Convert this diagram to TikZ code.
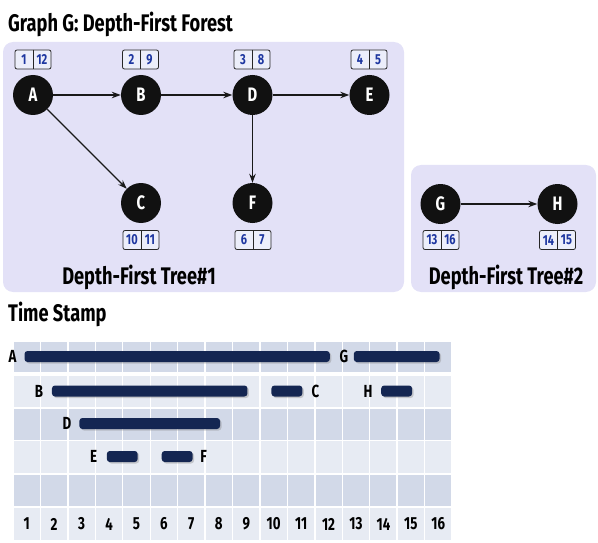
\documentclass[tikz,border=0pt]{standalone}
\usepackage{fontspec}
\usetikzlibrary{arrows.meta,shadows}
\newfontfamily\din[FakeStretch=0.76]{Fira Sans}
\definecolor{panel}{RGB}{227,225,247}
\definecolor{rowdark}{RGB}{210,217,232}
\definecolor{rowlight}{RGB}{231,235,243}
\definecolor{barcol}{RGB}{20,38,82}
\definecolor{numblue}{RGB}{30,55,160}
\definecolor{boxfill}{RGB}{236,238,250}
\definecolor{vtxfill}{RGB}{17,17,17}
\tikzset{
  panelbox/.style={fill=panel, rounded corners=10pt},
  vtx/.style={circle, fill=vtxfill, minimum size=40pt, inner sep=0pt, text=white, font=\din\bfseries\fontsize{19.5}{19.5}\selectfont},
  edge/.style={-{Stealth[length=9pt,width=6.5pt]}, line width=1.1pt, draw=black!90},
  stampbox/.style={rectangle, rounded corners=2pt, draw=black!85, line width=0.8pt, fill=boxfill, minimum width=36pt, minimum height=19pt, inner sep=0pt},
  stampline/.style={draw=black!85, line width=0.8pt},
  stampnum/.style={inner sep=0pt, text=numblue, font=\din\bfseries\fontsize{14.5}{14.5}\selectfont},
  titletext/.style={inner sep=0pt, font=\din\bfseries\fontsize{24}{24}\selectfont},
  treetext/.style={inner sep=0pt, font=\din\bfseries\fontsize{24}{24}\selectfont},
  barlbl/.style={inner sep=0pt, font=\din\bfseries\fontsize{17.5}{17.5}\selectfont},
  numlbl/.style={inner sep=0pt, font=\din\bfseries\fontsize{17.5}{17.5}\selectfont},
  barstyle/.style={fill=barcol, rounded corners=3pt, drop shadow={opacity=0.35, shadow xshift=1.5pt, shadow yshift=-1.5pt}}
}
\newcommand\stamp[4]{%
  \node[stampbox] (#1) at (#2) {};
  \draw[stampline] (#1.north) -- (#1.south);
  \node[stampnum] at ([xshift=-9pt]#1.center) {#3};
  \node[stampnum] at ([xshift=9pt]#1.center) {#4};
}
\newcommand\tsbar[3]{%
  \path[barstyle] ({13+(#1-1)*27.44+11.5},{#3-5.5}) rectangle ({13+#2*27.44-12.5},{#3+5.5});
}
\begin{document}
\begin{tikzpicture}[x=1pt,y=-1pt]
\useasboundingbox (0,0) rectangle (598,543);
% titles
\node[titletext, anchor=base west] (title) at (8,31.5) {Graph G: Depth-First Forest};
\node[titletext, anchor=base west] (tstitle) at (8,321) {Time Stamp};
% panels
\fill[panelbox] (3,42) rectangle (404,292);
\fill[panelbox] (411,165) rectangle (596,292);
\node[treetext, anchor=base] (t1) at (139,284) {Depth-First Tree\#1};
\node[treetext, anchor=base] (t2) at (506,284) {Depth-First Tree\#2};
% vertices
\node[vtx] (A) at (33,95) {A};
\node[vtx] (B) at (141,95) {B};
\node[vtx] (D) at (252.5,95) {D};
\node[vtx] (E) at (369.5,95) {E};
\node[vtx] (C) at (141,203) {C};
\node[vtx] (F) at (252.5,203) {F};
\node[vtx] (G) at (440.5,204) {G};
\node[vtx] (H) at (557.5,204) {H};
% edges
\draw[edge] (A) -- (B);
\draw[edge] (B) -- (D);
\draw[edge] (D) -- (E);
\draw[edge] (A) -- (C);
\draw[edge] (D) -- (F);
\draw[edge] (G) -- (H);
% stamps
\stamp{sA}{33,59.5}{1}{12}
\stamp{sB}{140.5,59.5}{2}{9}
\stamp{sD}{252,59.5}{3}{8}
\stamp{sE}{369,59.5}{4}{5}
\stamp{sC}{141,240}{10}{11}
\stamp{sF}{253,240}{6}{7}
\stamp{sG}{441,240}{13}{16}
\stamp{sH}{557.5,240}{14}{15}
% grid
\foreach \ya/\yb/\cl in {342/372/rowdark, 376/407/rowlight, 408.5/439.5/rowdark, 441/473/rowlight, 474.5/506/rowdark, 508/540/rowlight} {
  \foreach \i in {0,...,15} {
    \fill[\cl] ({13+\i*27.44+0.7},\ya) rectangle ({13+(\i+1)*27.44-0.7},\yb);
  }
}
\foreach \i in {1,...,16} {
  \node[numlbl] (n\i) at ({13+(\i-0.5)*27.44},524) {\i};
}
% bars
\tsbar{1}{12}{356.5}
\tsbar{13}{16}{356.5}
\tsbar{2}{9}{391}
\tsbar{10}{11}{391}
\tsbar{14}{15}{391}
\tsbar{3}{8}{423.5}
\tsbar{4}{5}{456.5}
\tsbar{6}{7}{456.5}
% bar labels
\node[barlbl] (lA) at (12.5,356.5) {A};
\node[barlbl] (lG) at (344,356.5) {G};
\node[barlbl] (lB) at (39,391) {B};
\node[barlbl] (lC) at (315.5,391) {C};
\node[barlbl] (lH) at (368,391) {H};
\node[barlbl] (lD) at (67,423.5) {D};
\node[barlbl] (lE) at (93.5,456.5) {E};
\node[barlbl] (lF) at (203.5,456.5) {F};
\end{tikzpicture}
\end{document}
